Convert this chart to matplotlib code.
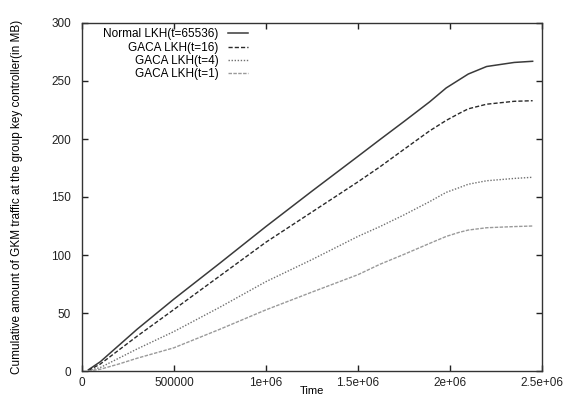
import matplotlib
matplotlib.use("Agg")
from matplotlib import pyplot as plt

plt.rcParams['font.family'] = ['Liberation Sans', 'DejaVu Sans']

# time axis samples
time = [35000, 100000, 200000, 300000, 500000, 750000, 1000000, 1250000,
        1500000, 1620000, 1750000, 1890000, 1980000, 2050000, 2100000,
        2200000, 2350000, 2450000]

normal_65536 = [1, 8, 22, 36, 62, 93, 124.5, 155, 185, 199.5, 215, 232, 244, 251,
                256, 262.5, 266, 267]
gaca_16 = [0.5, 6, 18, 30, 53, 82, 111, 137, 163, 176, 191, 207, 216, 222,
           226, 230, 232.5, 233]
gaca_4 = [0.3, 3, 11, 19, 34, 55, 77, 96, 116, 124.5, 134.5, 146, 154, 158,
          161, 164, 166, 167]
gaca_1 = [0, 1.5, 6, 11, 20, 36, 52.7, 68, 83, 92, 100.5, 110, 116, 119.5,
          121.5, 123.5, 124.5, 125]

labels = ["Normal LKH(t=65536)", "GACA LKH(t=16)", "GACA LKH(t=4)", "GACA LKH(t=1)"]
xticks = [0, 500000, 1000000, 1500000, 2000000, 2500000]
xticklabels = ["0", "500000", "1e+06", "1.5e+06", "2e+06", "2.5e+06"]
yticks = [0, 50, 100, 150, 200, 250, 300]

fig = plt.figure(figsize=(5.65, 4.0), dpi=100)
ax = fig.add_axes([0.145, 0.0725, 0.814, 0.87])

ax.plot(time, normal_65536, color="#3a3a3a", lw=1.1, linestyle="-", label=labels[0])
ax.plot(time, gaca_16, color="#2a2a2a", lw=1.0, linestyle=(0, (3, 1.5)), label=labels[1])
ax.plot(time, gaca_4, color="#707070", lw=1.0, linestyle=(0, (1, 1.2)), label=labels[2])
ax.plot(time, gaca_1, color="#9a9a9a", lw=1.0, linestyle=(0, (2.5, 1)), label=labels[3])

ax.set_xlim(0, 2500000)
ax.set_ylim(0, 300)
ax.set_xticks(xticks)
ax.set_xticklabels(xticklabels)
ax.set_yticks(yticks)
ax.tick_params(direction="in", top=True, right=True, length=4, width=1,
               labelsize=8.5, colors="#222222")
ax.tick_params(axis="y", pad=8)
ax.tick_params(axis="x", pad=4)
for sp in ax.spines.values():
    sp.set_linewidth(1.0)
    sp.set_color("#333333")

ax.set_xlabel("Time", fontsize=8)
ax.xaxis.set_label_coords(0.5, -0.043)
ax.set_ylabel("Cumulative amount of GKM traffic at the group key controller(in MB)",
              fontsize=8.5)
ax.yaxis.set_label_coords(-0.128, 0.5)

# gnuplot-style key: labels right-aligned, sample line after the text
ax.legend(loc="upper right", bbox_to_anchor=(0.362, 0.985), frameon=False,
          markerfirst=False, fontsize=8.5, handlelength=1.7,
          handletextpad=0.85, labelspacing=0.12, borderaxespad=0, borderpad=0)

fig.savefig("out.png", dpi=100)
